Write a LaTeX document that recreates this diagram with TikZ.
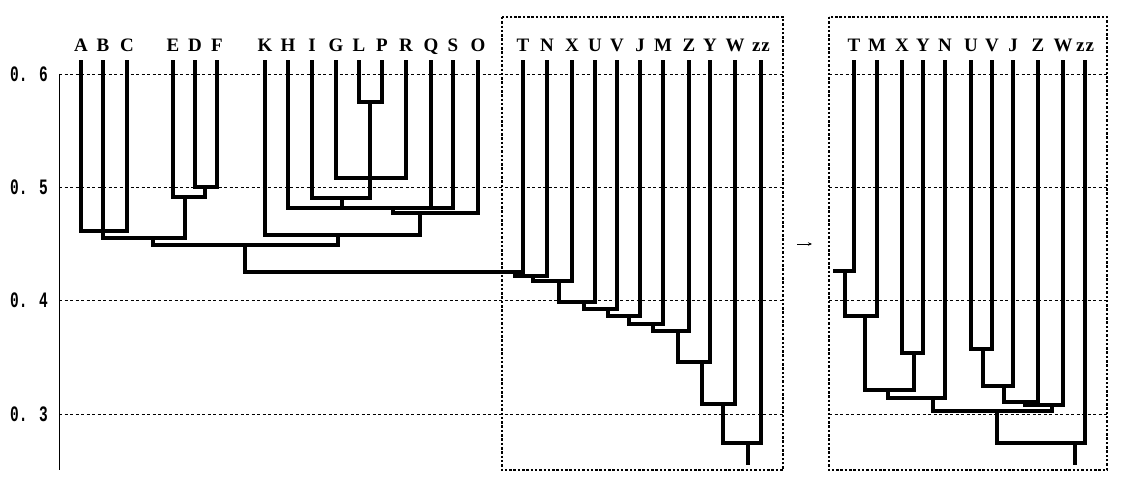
\documentclass[tikz,border=0pt]{standalone}
\usepackage{fontspec}
\setmainfont{Liberation Serif}
\newfontfamily\tickfont{Liberation Mono}
\usetikzlibrary{arrows.meta}
\newcommand\leafline[4]{\node[lbl] (#1) at (#2,52) {#3}; \draw[tree] (#2,62) -- (#2,#4);}
\newcommand\hseg[3]{\draw[tree] (#1,#3) -- (#2,#3);}
\newcommand\vseg[3]{\draw[tree] (#1,#2) -- (#1,#3);}
\begin{document}
\begin{tikzpicture}[x=1pt,y=-1pt,
  tree/.style={line width=3.6pt, line cap=rect},
  gridline/.style={line width=0.9pt, dash pattern=on 3pt off 2.5pt},
  frame/.style={line width=1.5pt, dash pattern=on 2.5pt off 1.8pt},
  lbl/.style={font=\bfseries\fontsize{19}{19}\selectfont, anchor=base, inner sep=0pt},
  tick/.style={font=\tickfont\bfseries\fontsize{22}{22}\selectfont, xscale=0.66, inner sep=0pt}
]
\useasboundingbox (0,0) rectangle (1122,478);
% frames
\draw[frame] (502,17) rectangle (783,470);
\draw[frame] (829,17) rectangle (1107,470);
% grid
\foreach \yy/\tt in {74/0. 6,187/0. 5,300/0. 4,414/0. 3}{
  \draw[gridline] (59,\yy) -- (783,\yy);
  \draw[gridline] (829,\yy) -- (1107,\yy);
  \node[tick] at (29,\yy) {\tt};
}
\draw[line width=0.9pt] (59,74) -- (59,470);
% left tree leaves
\leafline{A}{81}{A}{231}
\leafline{B}{103}{B}{238}
\leafline{C}{127}{C}{231}
\leafline{E}{173}{E}{197}
\leafline{D}{195}{D}{187}
\leafline{F}{217}{F}{187}
\leafline{K}{265}{K}{235}
\leafline{H}{288}{H}{208}
\leafline{I}{312}{I}{198}
\leafline{G}{336}{G}{178}
\leafline{L}{359}{L}{102}
\leafline{P}{382}{P}{102}
\leafline{R}{406}{R}{178}
\leafline{Q}{431}{Q}{208}
\leafline{S}{453}{S}{208}
\leafline{O}{478}{O}{213}
% left tree merges
\hseg{81}{127}{231}
\hseg{195}{217}{187}
\vseg{205}{187}{197}\hseg{173}{205}{197}
\vseg{185}{197}{238}\hseg{103}{185}{238}
\vseg{153}{238}{245}\hseg{153}{338}{245}
\hseg{359}{382}{102}\vseg{370}{102}{198}
\hseg{336}{406}{178}
\hseg{312}{370}{198}\vseg{342}{198}{208}
\hseg{288}{453}{208}
\vseg{393}{208}{213}\hseg{393}{478}{213}
\vseg{420}{213}{235}\hseg{265}{420}{235}
\vseg{338}{235}{245}
\vseg{245}{245}{272}\hseg{245}{523}{272}
% box 1 leaves
\leafline{T1}{523}{T}{272}
\leafline{N1}{547}{N}{276}
\leafline{X1}{572}{X}{281}
\leafline{U1}{595}{U}{302}
\leafline{V1}{617}{V}{309}
\leafline{J1}{640}{J}{316}
\leafline{M1}{663}{M}{324}
\leafline{Z1}{689}{Z}{331}
\leafline{Y1}{710}{Y}{362}
\leafline{W1}{735}{W}{404}
\leafline{zz1}{761}{z\kern1pt z}{443}
% box 1 merges
\vseg{515}{272}{276}\hseg{515}{547}{276}
\vseg{533}{276}{281}\hseg{533}{572}{281}
\vseg{559}{281}{302}\hseg{559}{595}{302}
\vseg{584}{302}{309}\hseg{584}{617}{309}
\vseg{608}{309}{316}\hseg{608}{640}{316}
\vseg{629}{316}{324}\hseg{629}{663}{324}
\vseg{653}{324}{331}\hseg{653}{689}{331}
\vseg{678}{331}{362}\hseg{678}{710}{362}
\vseg{702}{362}{404}\hseg{702}{735}{404}
\vseg{723}{404}{443}\hseg{723}{761}{443}
\vseg{748}{443}{463}
% arrow
\coordinate (arrA) at (797,244);
\coordinate (arrB) at (812,244);
\draw[line width=0.9pt,-{Stealth[length=4pt,width=3.5pt]}] (arrA) -- (arrB);
% box 2 leaves
\leafline{T2}{854}{T}{271}
\leafline{M2}{877}{M}{316}
\leafline{X2}{902}{X}{353}
\leafline{Y2}{923}{Y}{353}
\leafline{N2}{945}{N}{398}
\leafline{U2}{971}{U}{349}
\leafline{V2}{992}{V}{349}
\leafline{J2}{1013}{J}{386}
\leafline{Z2}{1038}{Z}{402}
\leafline{W2}{1063}{W}{405}
\leafline{zz2}{1085}{z\kern1pt z}{443}
% box 2 merges
\hseg{835}{854}{271}
\vseg{845}{271}{316}\hseg{845}{877}{316}
\hseg{902}{923}{353}
\vseg{865}{316}{390}\hseg{865}{914}{390}\vseg{914}{353}{390}
\vseg{888}{390}{398}\hseg{888}{945}{398}
\hseg{971}{992}{349}
\vseg{983}{349}{386}\hseg{983}{1013}{386}
\vseg{1004}{386}{402}\hseg{1004}{1038}{402}
\vseg{1025}{402}{405}\hseg{1025}{1063}{405}
\vseg{1052}{405}{411}\hseg{933}{1052}{411}\vseg{933}{398}{411}
\vseg{997}{411}{443}\hseg{997}{1085}{443}
\vseg{1075}{443}{463}
\end{tikzpicture}
\end{document}
